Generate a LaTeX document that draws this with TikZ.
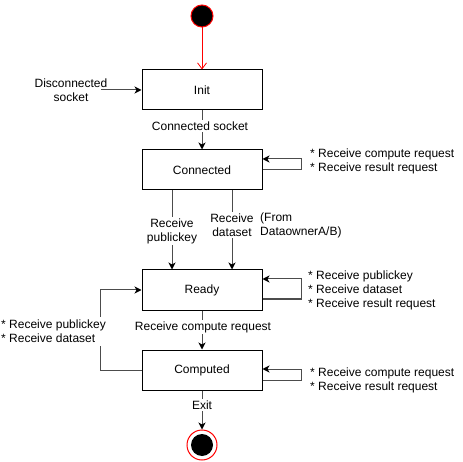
\documentclass[tikz,border=0pt]{standalone}
\usepackage{fontspec}
\setmainfont{Liberation Sans}
\usetikzlibrary{arrows.meta}
\begin{document}
\begin{tikzpicture}[x=1pt,y=-1pt,
  font=\fontsize{12}{14}\selectfont,
  statebox/.style={draw=black,line width=1pt,minimum width=120pt,minimum height=40pt,inner sep=0pt},
  conn/.style={draw=black!70,line width=1pt,-{Stealth[length=7pt,width=7pt,inset=2pt,black]}},
  lbl/.style={fill=white,inner sep=1.5pt,align=center},
  side/.style={align=left,anchor=west,inner sep=0pt}]
\useasboundingbox (0,0) rectangle (463,462);
% states
\node[statebox] (init) at (202,90) {Init};
\node[statebox] (connd) at (202,170) {Connected};
\node[statebox] (ready) at (202,290) {Ready};
\node[statebox] (comp) at (202,370) {Computed};
% start / end
\node[circle,draw=red,fill=black,line width=1pt,minimum size=22pt,inner sep=0pt] (start) at (202,16) {};
\node[circle,draw=red,fill=white,line width=1pt,minimum size=30pt,inner sep=0pt] (finish) at (202,445) {};
\node[circle,fill=black,minimum size=22pt,inner sep=0pt] (finishin) at (202,445) {};
% connectors
\draw[draw=red,line width=0.8pt,-{Straight Barb[length=6pt,width=9pt,red]}] (start) -- (init);
\coordinate (disc) at (101,90);
\draw[conn] (disc) -- (init.west);
\draw[conn] (init) -- (connd);
\draw[conn] (connd.east) -- ++(39,0) -- ++(0,-11) -- ([yshift=11pt]connd.east);
\draw[conn] ([xshift=-30pt]connd.south) -- ([xshift=-30pt]ready.north);
\draw[conn] ([xshift=30pt]connd.south) -- ([xshift=30pt]ready.north);
\draw[conn] ([yshift=-9pt]ready.east) -- ++(39,0) -- ++(0,-20) -- ([yshift=11pt]ready.east);
\draw[conn] (ready) -- (comp);
\draw[conn] ([yshift=-10pt]comp.east) -- ++(39,0) -- ++(0,-11) -- ([yshift=1pt]comp.east);
\draw[conn] (comp.west) -- ++(-41,0) |- (ready.west);
\draw[conn] (comp) -- (finish);
% labels
\node[align=center,inner sep=0pt] (disclbl) at (71,90.5) {Disconnected\\socket};
\node[lbl] (l1) at (200,126) {Connected socket};
\node[lbl] (l2) at (172,231) {Receive\\publickey};
\node[lbl] (l3) at (232,225) {Receive\\dataset};
\node[side] (l4) at (260,225) {(From\\DataownerA/B)};
\node[side] (l5) at (310,161) {* Receive compute request\\* Receive result request};
\node[side] (l6) at (308,290) {* Receive publickey\\* Receive dataset\\* Receive result request};
\node[lbl] (l7) at (203,327) {Receive compute request};
\node[side] (l8) at (310,380) {* Receive compute request\\* Receive result request};
\node[side,fill=white,inner ysep=3pt,inner xsep=1pt] (l9) at (0,331.5) {* Receive publickey\\* Receive dataset};
\node[lbl] (l10) at (202,405) {Exit};
\end{tikzpicture}
\end{document}
